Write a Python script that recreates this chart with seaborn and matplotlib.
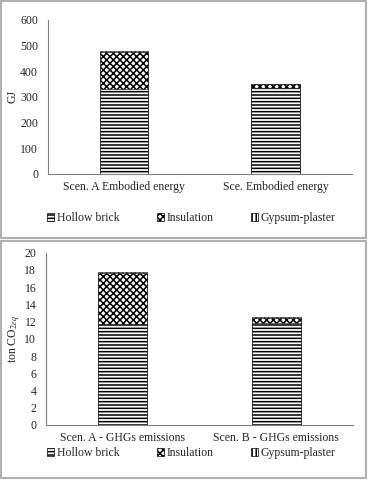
import pandas as pd
import matplotlib.pyplot as plt
import seaborn as sns
from matplotlib.patches import Rectangle, Patch

# Values
energy_cats = ['Scen. A Embodied energy', 'Sce. Embodied energy']
energy_brick = [330, 335]
energy_insul = [146, 14]
energy_gypsum = [3, 3]

ghg_cats = ['Scen. A - GHGs emissions', 'Scen. B - GHGs emissions']
ghg_brick = [11.7, 11.8]
ghg_insul = [5.9, 0.65]
ghg_gypsum = [0.12, 0.12]

layers = ['Hollow brick', 'Insulation', 'Gypsum-plaster']
hatches = ['-----', 'xxxxx', '||||']

sns.set_style('white')
plt.rcParams['font.family'] = ['Liberation Serif', 'DejaVu Serif']
plt.rcParams['mathtext.fontset'] = 'stix'
plt.rcParams['hatch.linewidth'] = 1.1

fig = plt.figure(figsize=(3.68, 4.8), dpi=100)

# panel frames
fig.patches.append(Rectangle((0.002, 0.505), 0.993, 0.493, transform=fig.transFigure,
                             fill=False, edgecolor='#b0b0b0', linewidth=1.5))
fig.patches.append(Rectangle((0.002, 0.004), 0.993, 0.493, transform=fig.transFigure,
                             fill=False, edgecolor='#b0b0b0', linewidth=1.5))


def stacked(ax, cats, brick, insul, gyps, ylim, step, ylabel, legend_y):
    df = pd.DataFrame({'cat': cats, 'brick': brick, 'insul': insul, 'gyps': gyps})
    df['top1'] = df['brick'] + df['insul']
    df['top2'] = df['top1'] + df['gyps']
    # draw totals first, then overlay lower layers
    for col, h in zip(['top2', 'top1', 'brick'], hatches[::-1]):
        sns.barplot(data=df, x='cat', y=col, ax=ax, color='white', edgecolor='black',
                    linewidth=0.4, hatch=h, width=0.32, errorbar=None, saturation=1)
    ax.set_xlim(-0.5, 1.5)
    ax.set_ylim(*ylim)
    ax.set_yticks(range(0, ylim[1] + 1, step))
    ax.set_xlabel('')
    ax.set_ylabel(ylabel, fontsize=8.5, labelpad=1)
    ax.tick_params(axis='y', labelsize=8.5, length=0, pad=7)
    ax.tick_params(axis='x', labelsize=8.5, length=0, pad=5)
    for s in ['top', 'right']:
        ax.spines[s].set_visible(False)
    for s in ['left', 'bottom']:
        ax.spines[s].set_color('#808080')
        ax.spines[s].set_linewidth(0.8)
    handles = [Patch(facecolor='white', edgecolor='black', hatch=h, linewidth=0.5, label=l)
               for h, l in zip(hatches, layers)]
    fig.legend(handles=handles, loc='center', bbox_to_anchor=(0.52, legend_y), ncol=3,
               frameon=False, fontsize=8.5, handlelength=0.6, handleheight=0.6,
               handletextpad=0.2, columnspacing=3.2)


ax1 = fig.add_axes([0.130, 0.6375, 0.826, 0.321])
stacked(ax1, energy_cats, energy_brick, energy_insul, energy_gypsum, (0, 600), 100, 'GJ', 0.545)

ax2 = fig.add_axes([0.125, 0.1146, 0.834, 0.359])
stacked(ax2, ghg_cats, ghg_brick, ghg_insul, ghg_gypsum, (0, 20), 2, 'ton CO$_{2eq}$', 0.056)

fig.savefig('out.png', dpi=100)
plt.close()
